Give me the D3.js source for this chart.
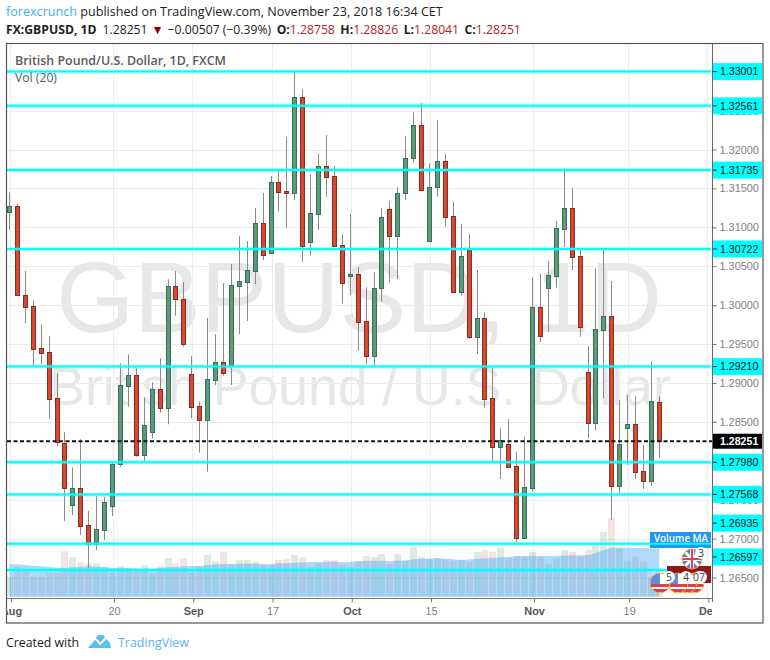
<!DOCTYPE html>
<html>
<head>
<meta charset="utf-8">
<script src="https://cdnjs.cloudflare.com/ajax/libs/d3/7.8.5/d3.min.js"></script>
<style>
html, body { margin: 0; padding: 0; background: #fff; }
svg { display: block; }
text { font-family: "Open Sans", "Noto Sans", sans-serif; }
.axis text, .price-label, .wm { font-family: "Liberation Sans", Arial, sans-serif; }
</style>
</head>
<body>
<div id="chart"></div>
<script>
// one entry per trading day from 1 Aug 2018 to 23 Nov 2018
const opens = [1.31201,1.31270,1.30134,1.29985,1.29445,1.29394,1.28803,1.28225,1.27436,1.27646,1.27171,1.26931,1.27114,1.27423,1.27955,1.28965,1.29098,1.28074,1.28374,1.28919,1.28682,1.30246,1.30075,1.29111,1.28700,1.28528,1.29042,1.29265,1.29222,1.30250,1.30301,1.30439,1.31052,1.30674,1.31578,1.31463,1.31445,1.32675,1.30815,1.31175,1.31784,1.31656,1.30769,1.30378,1.30396,1.29792,1.29350,1.30216,1.31231,1.30892,1.31437,1.31887,1.32311,1.30828,1.31514,1.31848,1.31141,1.30173,1.30705,1.29594,1.29831,1.28803,1.28173,1.28212,1.27933,1.27011,1.27654,1.29972,1.30224,1.30378,1.30982,1.31244,1.30628,1.29145,1.28482,1.29684,1.29857,1.27680,1.28425,1.28473,1.27865,1.27744,1.28758];
const highs = [1.31450,1.31300,1.30439,1.30062,1.29745,1.29600,1.29124,1.28366,1.27916,1.28276,1.27355,1.27547,1.27538,1.27988,1.29253,1.29368,1.29188,1.28816,1.29008,1.29317,1.30332,1.30439,1.30297,1.29346,1.28764,1.29835,1.29629,1.30281,1.30529,1.30888,1.30824,1.31248,1.31441,1.31659,1.31736,1.32161,1.32990,1.32777,1.31685,1.31951,1.32186,1.31788,1.30914,1.31171,1.30490,1.30229,1.30426,1.31248,1.31338,1.31514,1.32173,1.32478,1.32597,1.31823,1.32379,1.31942,1.31325,1.31039,1.30914,1.30451,1.29908,1.29201,1.28417,1.28533,1.28117,1.28309,1.30358,1.30409,1.30567,1.31081,1.31758,1.31501,1.30717,1.29475,1.30473,1.30708,1.30310,1.28781,1.28845,1.28832,1.28203,1.29273,1.28826];
const lows = [1.30965,1.30125,1.29767,1.29222,1.29244,1.28537,1.28190,1.27226,1.27303,1.27046,1.26626,1.26853,1.26982,1.27290,1.27924,1.28695,1.28052,1.27997,1.28289,1.28618,1.28469,1.29864,1.29466,1.28546,1.28104,1.27860,1.28974,1.29093,1.28974,1.29629,1.29796,1.30272,1.30580,1.30657,1.31201,1.30995,1.31351,1.30558,1.30635,1.30965,1.31393,1.30751,1.30018,1.30130,1.29414,1.29244,1.29222,1.30044,1.30288,1.30336,1.31351,1.31830,1.31467,1.30818,1.31393,1.31008,1.30160,1.30121,1.29565,1.29372,1.28682,1.27988,1.27766,1.27914,1.26952,1.27001,1.27612,1.29526,1.29659,1.30224,1.30747,1.30451,1.29594,1.28289,1.28387,1.28803,1.27239,1.27582,1.27946,1.27766,1.27637,1.27676,1.28041];
const closes = [1.31270,1.30134,1.29980,1.29440,1.29389,1.28794,1.28245,1.27654,1.27646,1.27166,1.26931,1.27119,1.27466,1.27955,1.28970,1.29098,1.28074,1.28456,1.28919,1.28682,1.30242,1.30075,1.29504,1.28695,1.28528,1.29047,1.29265,1.29132,1.30255,1.30306,1.30448,1.31052,1.30648,1.31578,1.31458,1.31445,1.32675,1.30764,1.31180,1.31784,1.31650,1.30764,1.30288,1.30396,1.29787,1.29350,1.30216,1.31129,1.30892,1.31437,1.31887,1.32311,1.31476,1.31514,1.31848,1.31136,1.30173,1.30628,1.29594,1.29831,1.28794,1.28173,1.28267,1.27924,1.27011,1.27659,1.29972,1.29607,1.30383,1.30987,1.31244,1.30622,1.29723,1.28482,1.29689,1.29857,1.27680,1.28212,1.28473,1.27860,1.27744,1.28764,1.28251];
// no volume axis in the picture, so these are in relative units
const volumes = [60,90,80,60,60,72,72,137,119,104,100,100,90,72,92,86,86,95,70,92,116,100,116,72,90,125,106,134,96,110,110,104,95,94,110,113,125,119,89,101,110,110,96,89,106,122,119,128,99,128,108,149,119,114,116,112,108,110,105,134,140,134,146,115,122,120,134,120,98,115,140,134,122,140,160,194,235,145,108,120,105,60,40];
const volumeMA = [98,97,95,93,91,89,87,86,88,90,91,90,89,86,86,85,84,84,84,86,88,89,91,92,92,95,97,98,98,99,99,99,98,98,100,101,102,103,104,104,105,105,103,104,106,107,108,108,107,108,108,112,114,114,115,114,112,110,112,114,115,116,118,119,122,122,122,122,122,122,123,124,124,125,130,140,147,147,147,146,146,145,144];

const levels = [1.33001,1.32561,1.31735,1.30722,1.29210,1.27980,1.27568,1.26935,1.26597];
const levelLabelShift = [0,0,0,0,0,0,0,-20.5,-13]; // last two labels sit away from their lines
const lastPrice = 1.28251;

const priceTicks = [1.265,1.27,1.275,1.28,1.285,1.29,1.295,1.30,1.305,1.31,1.315,1.32,1.325];
const dayTicks = [0,13,23,33,43,53,66,78,88];
const dayLabels = ['Aug','20','Sep','17','Oct','15','Nov','19','Dec'];
const monthLabels = ['Aug','Sep','Oct','Nov','Dec'];

const width = 770, height = 660;
const plotLeft = 7, plotRight = 712, plotTop = 44, plotBottom = 598;

const svg = d3.select('#chart').append('svg')
    .attr('width', width)
    .attr('height', height);

const defs = svg.append('defs');
defs.append('clipPath').attr('id', 'plot-clip')
    .append('rect').attr('x', plotLeft).attr('y', plotTop).attr('width', plotRight - plotLeft).attr('height', plotBottom - plotTop);
defs.append('clipPath').attr('id', 'time-clip')
    .append('rect').attr('x', plotLeft - 1.5).attr('y', -1).attr('width', plotRight - plotLeft).attr('height', 25);

const x = d3.scaleLinear().domain([0, 88]).range([9.5, 706.9]);
const y = d3.scaleLinear().domain([1.265, 1.32]).range([577.5, 149.5]);
const yVol = d3.scaleLinear().domain([0, 235]).range([596.7, 518.3]);
const px = i => Math.floor(x(i)) + 0.5;
const py = v => Math.round(y(v)) + 0.5;

// header
const head1 = svg.append('text').attr('x', 6).attr('y', 16).style('font-size', '12.6px').attr('fill', '#222');
head1.append('tspan').attr('fill', '#45aee6').text('forexcrunch');
head1.append('tspan').text(' published on TradingView.com, November 23, 2018 16:34 CET');

const head2 = svg.append('text').attr('x', 6).attr('y', 34).style('font-size', '12.2px').attr('fill', '#222');
head2.append('tspan').style('font-weight', 700).text('FX:GBPUSD, 1D');
head2.append('tspan').attr('dx', 6).text('1.28251');
head2.append('tspan').attr('dx', 4).attr('fill', '#8b0000').text('▼');
head2.append('tspan').attr('dx', 4).text('−0.00507 (−0.39%)');
[['O:', '1.28758'], ['H:', '1.28826'], ['L:', '1.28041'], ['C:', '1.28251']].forEach(d => {
    head2.append('tspan').attr('dx', 5.5).style('font-weight', 700).text(d[0]);
    head2.append('tspan').attr('fill', '#b22222').text(d[1]);
});

// watermark
svg.append('text').attr('class', 'wm')
    .attr('x', 359).attr('y', 332).attr('text-anchor', 'middle')
    .style('font-size', '100px').attr('fill', '#e7e7e7')
    .text('GBPUSD, 1D');
svg.append('text').attr('class', 'wm')
    .attr('x', 360).attr('y', 405).attr('text-anchor', 'middle')
    .style('font-size', '53.5px').attr('fill', '#e7e7e7')
    .text('British Pound / U.S. Dollar');

const plot = svg.append('g').attr('clip-path', 'url(#plot-clip)');

// grid
plot.append('g').selectAll('line').data(priceTicks).join('line')
    .attr('x1', plotLeft).attr('x2', plotRight)
    .attr('y1', d => py(d)).attr('y2', d => py(d))
    .attr('stroke', '#ececec');
plot.append('g').selectAll('line').data(dayTicks).join('line')
    .attr('x1', d => px(d) + 1).attr('x2', d => px(d) + 1)
    .attr('y1', plotTop).attr('y2', plotBottom)
    .attr('stroke', '#ececec');

// volume
plot.append('g').selectAll('rect').data(volumes).join('rect')
    .attr('x', (d, i) => px(i) - 3.5)
    .attr('y', d => yVol(d))
    .attr('width', 7)
    .attr('height', d => yVol(0) - yVol(d))
    .attr('fill', (d, i) => closes[i] >= opens[i] ? 'rgba(83,152,106,0.2)' : 'rgba(172,60,50,0.14)');

const maArea = d3.area()
    .x((d, i) => x(i))
    .y0(yVol(0))
    .y1(d => yVol(d));
plot.append('path').datum(volumeMA)
    .attr('d', maArea)
    .attr('fill', 'rgba(66,165,245,0.42)');

// candles
const candles = plot.append('g').selectAll('g').data(closes).join('g');
candles.append('line')
    .attr('x1', (d, i) => px(i)).attr('x2', (d, i) => px(i))
    .attr('y1', (d, i) => y(highs[i])).attr('y2', (d, i) => y(lows[i]))
    .attr('stroke', '#8a8a8a');
candles.append('rect')
    .attr('x', (d, i) => px(i) - 2)
    .attr('width', 4)
    .attr('y', (d, i) => py(Math.max(opens[i], closes[i])))
    .attr('height', (d, i) => Math.abs(py(opens[i]) - py(closes[i])))
    .attr('fill', (d, i) => d >= opens[i] ? '#5c9a79' : '#d24a34')
    .attr('stroke', (d, i) => d >= opens[i] ? '#35705a' : '#8c2c1e');

// support and resistance levels
plot.append('g').selectAll('line').data(levels).join('line')
    .attr('x1', plotLeft).attr('x2', plotRight - 1)
    .attr('y1', d => y(d)).attr('y2', d => y(d))
    .attr('stroke', 'rgba(0,255,255,0.3)').attr('stroke-width', 4);
plot.append('g').selectAll('line').data(levels).join('line')
    .attr('x1', plotLeft).attr('x2', plotRight - 1)
    .attr('y1', d => y(d)).attr('y2', d => y(d))
    .attr('stroke', '#00ffff').attr('stroke-width', 2);

plot.append('line')
    .attr('x1', plotLeft).attr('x2', plotRight)
    .attr('y1', y(lastPrice)).attr('y2', y(lastPrice))
    .attr('stroke', '#111').attr('stroke-width', 2).attr('stroke-dasharray', '4 2.5');

// axes
const yAxis = d3.axisRight(y)
    .tickValues(priceTicks)
    .tickSize(4)
    .tickFormat(d3.format('.5f'));
const yAxisG = svg.append('g').attr('class', 'axis')
    .attr('transform', `translate(${plotRight + 0.5},0)`)
    .call(yAxis);
yAxisG.select('.domain').remove();
yAxisG.selectAll('line').attr('stroke', '#777');
yAxisG.selectAll('text').attr('x', 7).attr('fill', '#808080').style('font-size', '10.9px');

// labels for the levels
const labelG = svg.append('g').selectAll('g').data(levels).join('g')
    .attr('transform', (d, i) => `translate(${plotRight + 1},${y(d) + levelLabelShift[i]})`);
labelG.append('rect').attr('x', 0).attr('y', -8.5).attr('width', 49).attr('height', 17).attr('fill', '#00ffff');
labelG.append('line').attr('x1', 0).attr('x2', 4).attr('stroke', '#222');
labelG.append('text').attr('class', 'price-label')
    .attr('x', 7).attr('dy', '0.36em')
    .attr('fill', '#111').style('font-size', '10.6px')
    .text(d => d3.format('.5f')(d));

const lastG = svg.append('g').attr('transform', `translate(${plotRight + 1},${y(lastPrice)})`);
lastG.append('rect').attr('x', 0).attr('y', -7.5).attr('width', 49).attr('height', 15).attr('fill', '#000');
lastG.append('text').attr('class', 'price-label')
    .attr('x', 7).attr('dy', '0.36em')
    .attr('fill', '#fff').style('font-size', '10.6px').style('font-weight', 700)
    .text(d3.format('.5f')(lastPrice));

const xAxis = d3.axisBottom(x)
    .tickValues(dayTicks)
    .tickSize(4)
    .tickFormat((d, i) => dayLabels[i]);
const xAxisG = svg.append('g').attr('class', 'axis')
    .attr('transform', `translate(1.5,${plotBottom + 0.5})`)
    .attr('clip-path', 'url(#time-clip)')
    .call(xAxis);
xAxisG.select('.domain').remove();
xAxisG.selectAll('line').attr('stroke', '#777');
xAxisG.selectAll('text')
    .attr('y', 9)
    .attr('fill', (d, i) => monthLabels.includes(dayLabels[i]) ? '#555' : '#808080')
    .style('font-weight', (d, i) => monthLabels.includes(dayLabels[i]) ? 700 : 400)
    .style('font-size', '10.9px');

// frame
svg.append('line').attr('x1', plotLeft).attr('x2', plotRight).attr('y1', plotBottom + 0.5).attr('y2', plotBottom + 0.5).attr('stroke', '#777');
svg.append('line').attr('x1', plotRight + 0.5).attr('x2', plotRight + 0.5).attr('y1', plotTop).attr('y2', plotBottom + 4).attr('stroke', '#666');
svg.append('rect')
    .attr('x', 6.5).attr('y', 43.5).attr('width', 756.5).attr('height', 579.5)
    .attr('fill', 'none').attr('stroke', '#555').attr('stroke-width', 1.2);

// titles
svg.append('text').attr('x', 15).attr('y', 65).attr('fill', '#5a5a5a')
    .style('font-size', '12.4px').style('font-weight', 600)
    .text('British Pound/U.S. Dollar, 1D, FXCM');
svg.append('text').attr('x', 15).attr('y', 82).attr('fill', '#5a5a5a')
    .style('font-size', '12.2px')
    .text('Vol (20)');

// volume MA badge and the event icons
svg.append('rect').attr('x', 650).attr('y', 532).attr('width', 61).attr('height', 16).attr('fill', '#2196f3');
svg.append('line').attr('x1', 650).attr('x2', 711).attr('y1', y(1.26935)).attr('y2', y(1.26935))
    .attr('stroke', '#00ffff').attr('stroke-width', 2);
svg.append('text').attr('x', 654).attr('y', 541.5).attr('fill', '#fff')
    .style('font-size', '9.8px').style('font-weight', 600).text('Volume MA');
svg.append('rect').attr('x', 667).attr('y', 566).attr('width', 44).attr('height', 17).attr('fill', '#8b1a1a');

const icons = [
    {cx: 692, cy: 559, flag: 'uk', n: '3', nx: 701, ny: 553},
    {cx: 694, cy: 583, flag: 'us'},
    {cx: 687, cy: 583, flag: 'us'},
    {cx: 678, cy: 583, flag: 'us', n: '4', nx: 686, ny: 577},
    {cx: 660, cy: 583, flag: 'us', n: '5', nx: 669, ny: 577}
];
icons.forEach((d, i) => {
    defs.append('clipPath').attr('id', 'icon-' + i)
        .append('circle').attr('cx', d.cx).attr('cy', d.cy).attr('r', 10);
    const g = svg.append('g');
    const flag = g.append('g').attr('clip-path', `url(#icon-${i})`);
    flag.append('rect').attr('x', d.cx - 10).attr('y', d.cy - 10).attr('width', 20).attr('height', 20).attr('fill', '#fff');
    if (d.flag === 'uk') {
        flag.append('rect').attr('x', d.cx - 10).attr('y', d.cy - 10).attr('width', 20).attr('height', 20).attr('fill', '#5b7fc7');
        flag.append('path').attr('d', `M${d.cx - 10},${d.cy - 10}L${d.cx + 10},${d.cy + 10}M${d.cx + 10},${d.cy - 10}L${d.cx - 10},${d.cy + 10}`)
            .attr('stroke', '#fff').attr('stroke-width', 3);
        flag.append('path').attr('d', `M${d.cx - 10},${d.cy}H${d.cx + 10}M${d.cx},${d.cy - 10}V${d.cy + 10}`)
            .attr('stroke', '#fff').attr('stroke-width', 4);
        flag.append('path').attr('d', `M${d.cx - 10},${d.cy}H${d.cx + 10}M${d.cx},${d.cy - 10}V${d.cy + 10}`)
            .attr('stroke', '#d9434e').attr('stroke-width', 2);
    } else {
        flag.append('rect').attr('x', d.cx - 10).attr('y', d.cy + 1).attr('width', 20).attr('height', 3).attr('fill', '#d9434e');
        flag.append('rect').attr('x', d.cx - 10).attr('y', d.cy + 6).attr('width', 20).attr('height', 3).attr('fill', '#d9434e');
        flag.append('rect').attr('x', d.cx - 10).attr('y', d.cy - 10).attr('width', 10).attr('height', 11).attr('fill', '#5b8ee0');
    }
    g.append('circle').attr('cx', d.cx).attr('cy', d.cy).attr('r', 10)
        .attr('fill', 'none').attr('stroke', '#f7a035').attr('stroke-width', 1);
    if (d.n) {
        g.append('circle').attr('cx', d.nx).attr('cy', d.ny).attr('r', 6).attr('fill', '#fff');
        g.append('text').attr('x', d.nx).attr('y', d.ny + 4).attr('text-anchor', 'middle')
            .attr('fill', '#444').style('font-size', '10.5px').text(d.n);
    }
});
svg.append('rect').attr('x', 693).attr('y', 571).attr('width', 14).attr('height', 12).attr('rx', 6).attr('fill', '#fff');
svg.append('text').attr('x', 699).attr('y', 581).attr('text-anchor', 'middle')
    .attr('fill', '#444').style('font-size', '10.5px').text('07');

// footer
svg.append('text').attr('x', 6).attr('y', 647).attr('fill', '#222').style('font-size', '12.3px').text('Created with');
svg.append('path')
    .attr('d', 'M88,648 L94,640 L98,635 L103,635 L110,643 L111,648 Z')
    .attr('fill', '#5cc0ec');
svg.append('path')
    .attr('d', 'M90,644 L95,638 L100,644 L106,638')
    .attr('fill', 'none').attr('stroke', '#fff').attr('stroke-width', 2);
svg.append('text').attr('x', 118).attr('y', 647).attr('fill', '#5ab6e6').style('font-size', '12.4px').text('TradingView');
</script>
</body>
</html>
